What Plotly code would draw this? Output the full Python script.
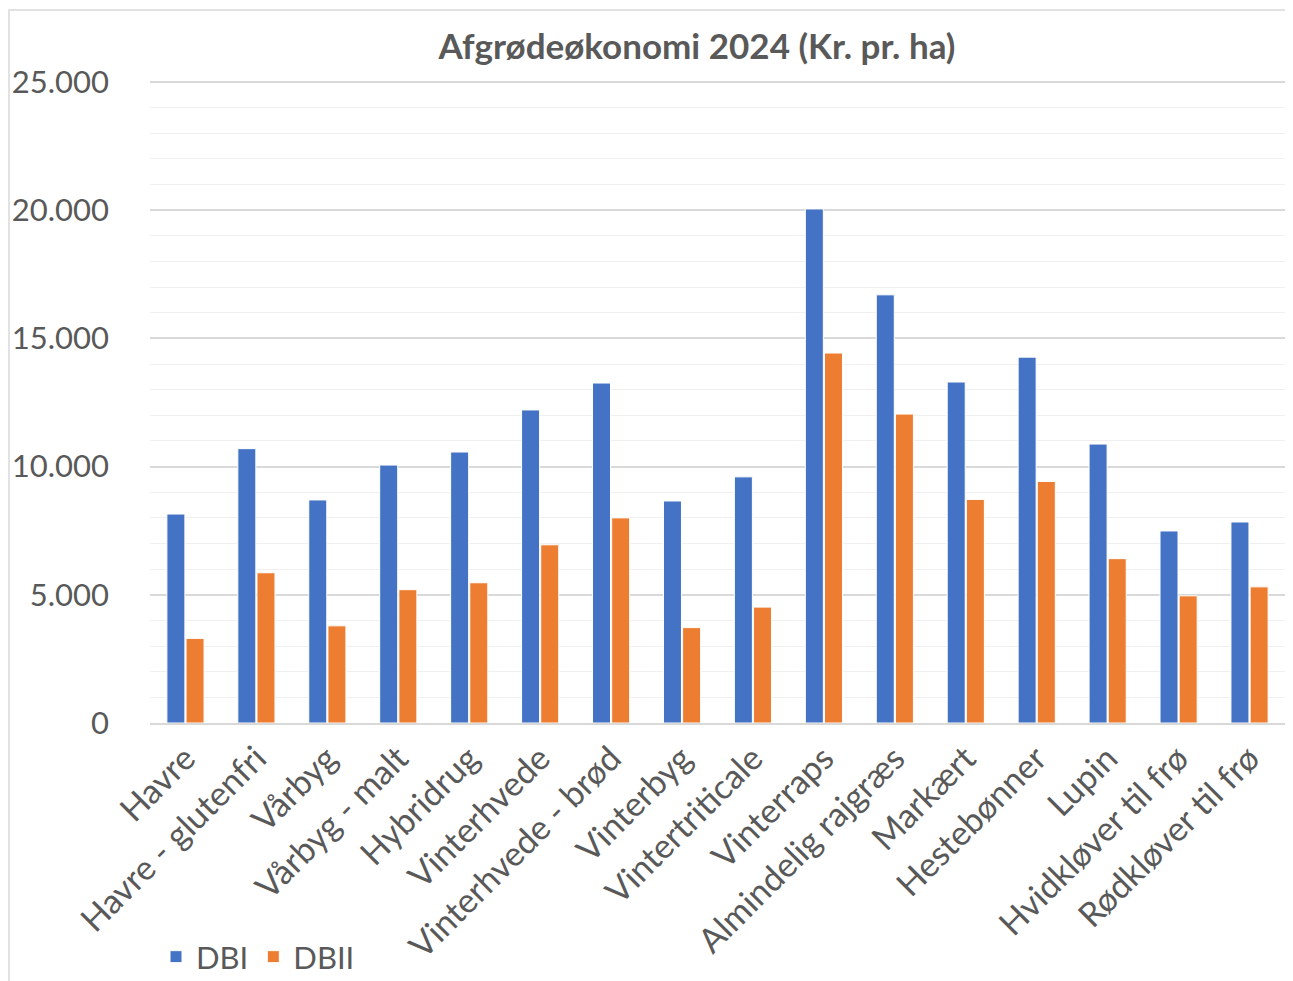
import plotly.graph_objects as go

categories = ["Havre", "Havre - glutenfri", "Vårbyg", "Vårbyg - malt", "Hybridrug",
              "Vinterhvede", "Vinterhvede - brød", "Vinterbyg", "Vintertriticale",
              "Vinterraps", "Almindelig rajgræs", "Markært", "Hestebønner", "Lupin",
              "Hvidkløver til frø", "Rødkløver til frø"]
dbi = [8150, 10700, 8700, 10060, 10570, 12210, 13260, 8660, 9600,
       20050, 16700, 13300, 14270, 10880, 7490, 7840]
dbii = [3300, 5860, 3790, 5200, 5470, 6950, 8000, 3720, 4520,
        14430, 12050, 8720, 9420, 6410, 4960, 5310]
y_ticks = [0, 5000, 10000, 15000, 20000, 25000]

FONT = "Lato, 'Open Sans', sans-serif"
GRAY = "#595959"

fig = go.Figure()
fig.add_trace(go.Bar(x=categories, y=dbi, name="DBI", marker=dict(color="#4472C4", line=dict(color="white", width=1))))
fig.add_trace(go.Bar(x=categories, y=dbii, name="DBII", marker=dict(color="#ED7D31", line=dict(color="white", width=1))))

# page has an 8px body margin; figure coords = page coords - 8
OFF = 8
W, H = 1293 - OFF, 981 - OFF
L, T = 150 - OFF, 81 - OFF
pw, ph = 1135, 642
R = W - L - pw
B = H - T - ph

def px_x(page_x):
    return (page_x - OFF - L) / pw

def px_y(page_y):
    return (T + ph - (page_y - OFF)) / ph

fig.update_layout(
    width=W, height=H,
    margin=dict(l=L, r=R, t=T, b=B, autoexpand=False),
    paper_bgcolor="white", plot_bgcolor="white",
    separators=",.",
    barmode="group", bargap=0.46, bargroupgap=0.06,
    title=dict(text="<b>Afgrødeøkonomi 2024 (Kr. pr. ha)</b>", x=689 / W, xanchor="center",
               y=1 - 39 / H, yanchor="middle", font=dict(family=FONT, size=35, color=GRAY)),
    font=dict(family=FONT, color=GRAY),
    legend=dict(orientation="h", x=px_x(156), y=px_y(957), xanchor="left", yanchor="middle",
                font=dict(family=FONT, size=31, color=GRAY), bgcolor="rgba(0,0,0,0)"),
    xaxis=dict(tickangle=-45, tickfont=dict(family=FONT, size=34, color=GRAY), automargin=False,
               showline=True, linecolor="#d9d9d9", linewidth=2, ticks="", showgrid=False),
    yaxis=dict(range=[0, 25040], tickvals=y_ticks, tickformat=",d", automargin=False,
               tickfont=dict(family=FONT, size=31, color=GRAY),
               showgrid=True, gridcolor="#d9d9d9", gridwidth=1.5, zeroline=False,
               ticklabelstandoff=40,
               minor=dict(dtick=1000, showgrid=True, gridcolor="#f0f0f0", gridwidth=1)),
    shapes=[dict(type="rect", xref="paper", yref="paper",
                 x0=px_x(9), x1=px_x(1300), y0=px_y(990), y1=px_y(10),
                 line=dict(color="#d9d9d9", width=1.5), fillcolor="rgba(0,0,0,0)", layer="below")],
)

fig.write_html("out.html")
